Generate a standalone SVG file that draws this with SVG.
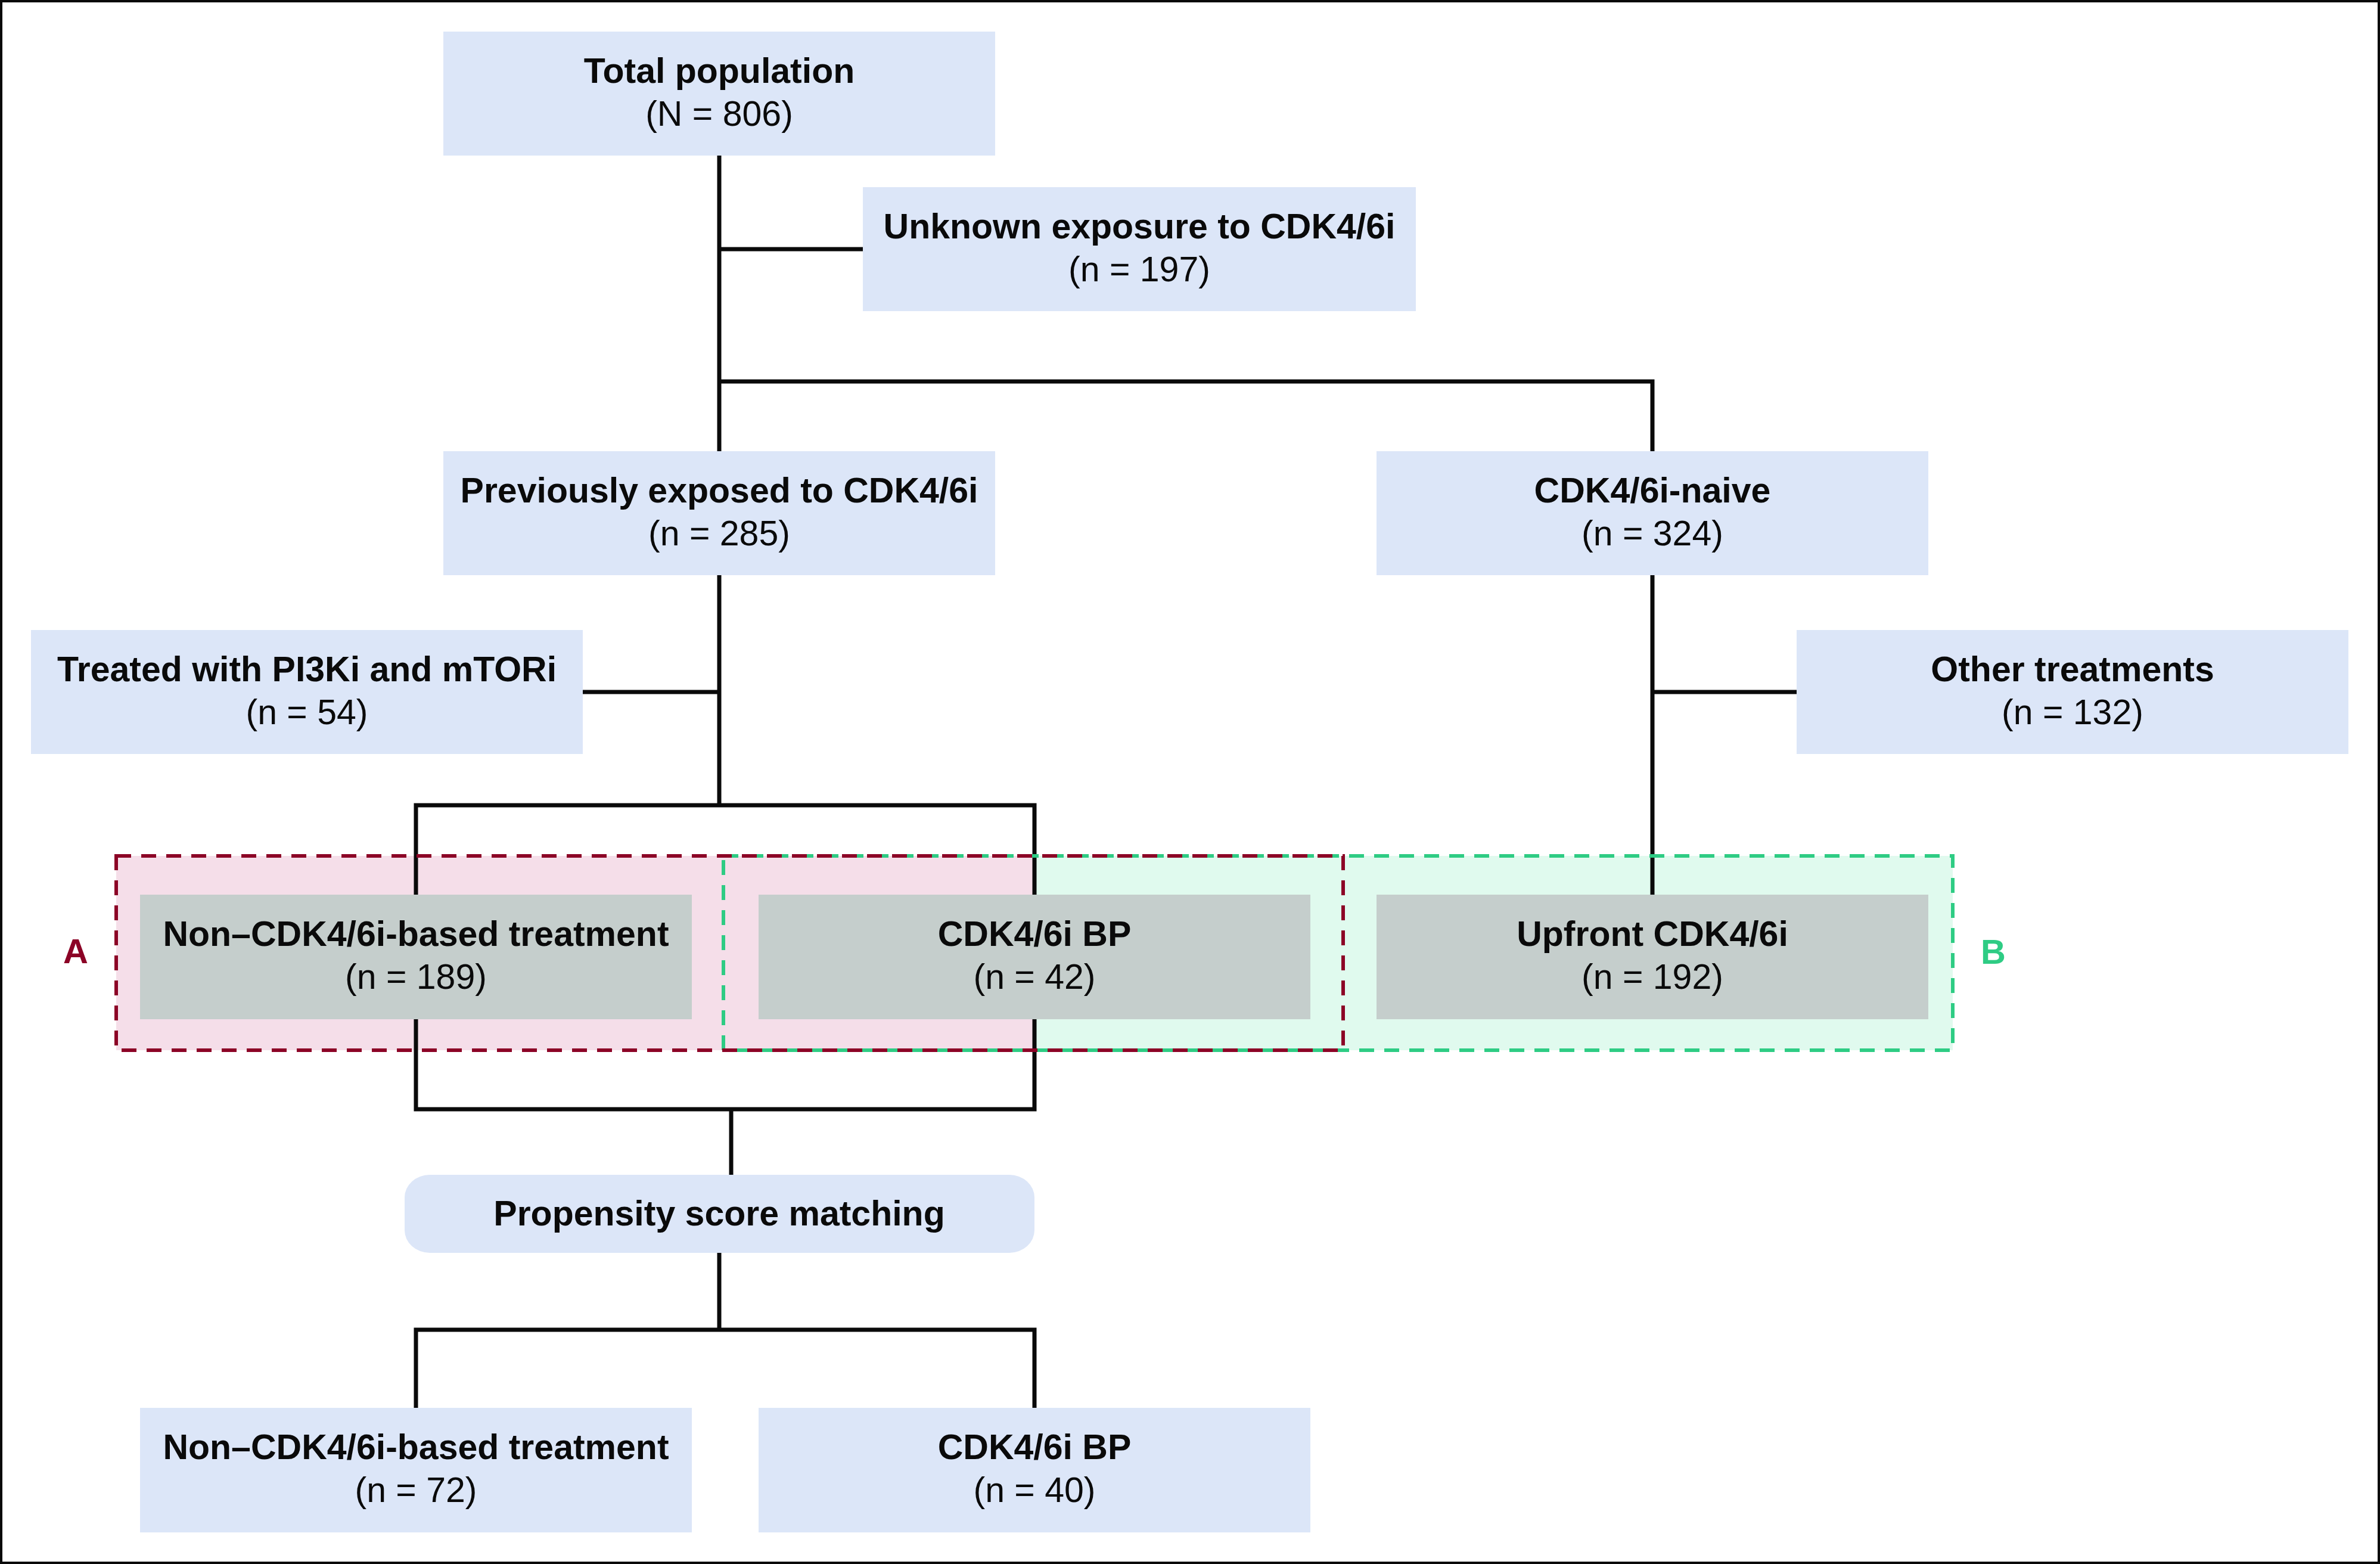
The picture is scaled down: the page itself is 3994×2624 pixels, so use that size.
<svg xmlns="http://www.w3.org/2000/svg" width="3994" height="2624" viewBox="0 0 3994 2624">
<style>
.box{fill:#DCE6F8}
.grey{fill:#C5CECC}
.t1{font-family:"Liberation Sans",Arial,sans-serif;font-weight:bold;font-size:59px;fill:#0a0a0a;text-anchor:middle}
.t2{font-family:"Liberation Sans",Arial,sans-serif;font-size:59px;fill:#0a0a0a;text-anchor:middle}
.con{fill:none;stroke:#0a0a0a;stroke-width:7}
.dashR{fill:none;stroke:#8C0326;stroke-width:6;stroke-dasharray:25 17}
.dashG{fill:none;stroke:#2ECC84;stroke-width:6;stroke-dasharray:25 17}
.lab{font-family:"Liberation Sans",Arial,sans-serif;font-weight:bold;font-size:58px;text-anchor:middle}
</style>
<rect x="0" y="0" width="3994" height="2624" fill="#ffffff"/>
<rect x="2" y="2" width="3990" height="2620" fill="none" stroke="#0a0a0a" stroke-width="4"/>

<g id="region-fills">
<rect x="1214" y="1436" width="2063" height="326" fill="#E0FAEE"/>
<rect x="195" y="1436" width="1541" height="326" fill="#F5DEE9"/>
</g>

<g id="connectors">
<path class="con" d="M1207 261V757"/>
<path class="con" d="M1207 418H1448"/>
<path class="con" d="M1207 640H2773V757"/>
<path class="con" d="M1207 965V1351"/>
<path class="con" d="M978 1161H1207"/>
<path class="con" d="M2773 965V1501"/>
<path class="con" d="M2773 1161H3015"/>
<path class="con" d="M698 1501V1351H1736V1501"/>
<path class="con" d="M698 1710V1861H1736V1710"/>
<path class="con" d="M1227 1861V1971"/>
<path class="con" d="M1207 2102V2231"/>
<path class="con" d="M698 2362V2231H1736V2362"/>
</g>

<g id="region-B">
<rect class="dashG" x="1214" y="1436" width="2063" height="326"/>
<text class="lab" x="3345" y="1617" fill="#2ECC84">B</text>
</g>
<g id="region-A">
<rect class="dashR" x="195" y="1436" width="2059" height="326"/>
<text class="lab" x="127" y="1616" fill="#8C0326">A</text>
</g>

<g id="n-total">
<rect class="box" x="744" y="53" width="926" height="208"/>
<text class="t1" x="1207" y="139">Total population</text>
<text class="t2" x="1207" y="211">(N = 806)</text>
</g>
<g id="n-unknown">
<rect class="box" x="1448" y="314" width="928" height="208"/>
<text class="t1" x="1912" y="400">Unknown exposure to CDK4/6i</text>
<text class="t2" x="1912" y="472">(n = 197)</text>
</g>
<g id="n-previous">
<rect class="box" x="744" y="757" width="926" height="208"/>
<text class="t1" x="1207" y="843">Previously exposed to CDK4/6i</text>
<text class="t2" x="1207" y="915">(n = 285)</text>
</g>
<g id="n-naive">
<rect class="box" x="2310" y="757" width="926" height="208"/>
<text class="t1" x="2773" y="843">CDK4/6i-naive</text>
<text class="t2" x="2773" y="915">(n = 324)</text>
</g>
<g id="n-pi3k">
<rect class="box" x="52" y="1057" width="926" height="208"/>
<text class="t1" x="515" y="1143">Treated with PI3Ki and mTORi</text>
<text class="t2" x="515" y="1215">(n = 54)</text>
</g>
<g id="n-other">
<rect class="box" x="3015" y="1057" width="926" height="208"/>
<text class="t1" x="3478" y="1143">Other treatments</text>
<text class="t2" x="3478" y="1215">(n = 132)</text>
</g>
<g id="n-nonbased">
<rect class="grey" x="235" y="1501" width="926" height="209"/>
<text class="t1" x="698" y="1587">Non–CDK4/6i-based treatment</text>
<text class="t2" x="698" y="1659">(n = 189)</text>
</g>
<g id="n-bp">
<rect class="grey" x="1273" y="1501" width="926" height="209"/>
<text class="t1" x="1736" y="1587">CDK4/6i BP</text>
<text class="t2" x="1736" y="1659">(n = 42)</text>
</g>
<g id="n-upfront">
<rect class="grey" x="2310" y="1501" width="926" height="209"/>
<text class="t1" x="2773" y="1587">Upfront CDK4/6i</text>
<text class="t2" x="2773" y="1659">(n = 192)</text>
</g>
<g id="n-psm">
<rect class="box" x="679" y="1971" width="1057" height="131" rx="42" ry="38"/>
<text class="t1" x="1207" y="2056">Propensity score matching</text>
</g>
<g id="n-nonbased-matched">
<rect class="box" x="235" y="2362" width="926" height="209"/>
<text class="t1" x="698" y="2448">Non–CDK4/6i-based treatment</text>
<text class="t2" x="698" y="2520">(n = 72)</text>
</g>
<g id="n-bp-matched">
<rect class="box" x="1273" y="2362" width="926" height="209"/>
<text class="t1" x="1736" y="2448">CDK4/6i BP</text>
<text class="t2" x="1736" y="2520">(n = 40)</text>
</g>
</svg>
